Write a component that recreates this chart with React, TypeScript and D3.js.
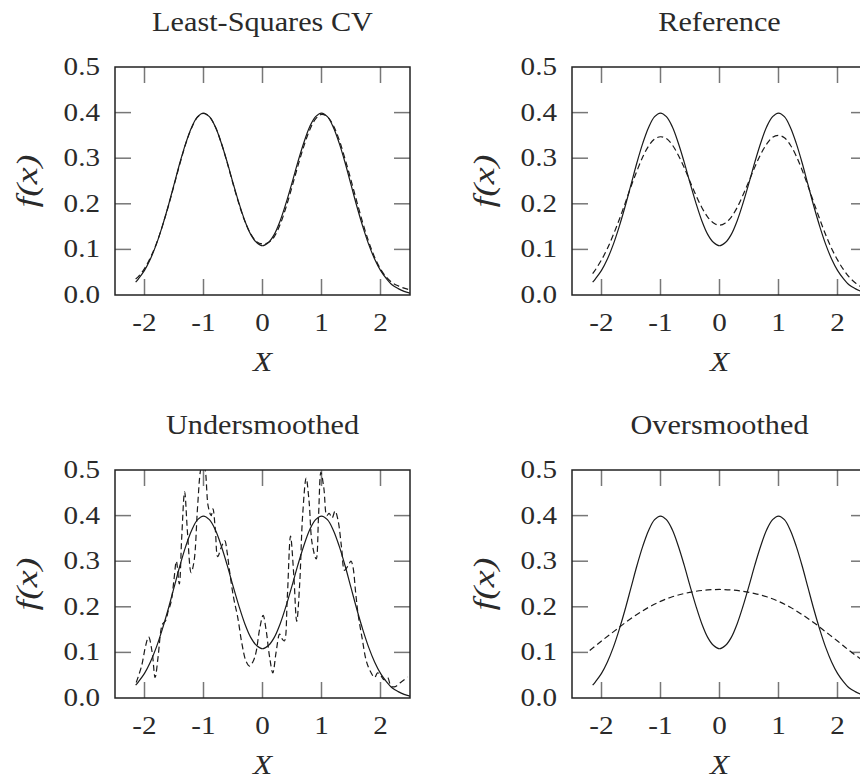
import * as d3 from "d3";

const xTicks = [-2, -1, 0, 1, 2];
const yTicks = [0, 0.1, 0.2, 0.3, 0.4, 0.5];

// common grid for the smooth curves
const gridX = [
  -2.15, -2.1, -2.0, -1.9, -1.8, -1.7, -1.6, -1.5, -1.4, -1.3, -1.2, -1.1, -1.0, -0.9, -0.8, -0.7,
  -0.6, -0.5, -0.4, -0.3, -0.2, -0.1, 0.0, 0.1, 0.2, 0.3, 0.4, 0.5, 0.6, 0.7, 0.8, 0.9, 1.0, 1.1,
  1.2, 1.3, 1.4, 1.5, 1.6, 1.7, 1.8, 1.9, 2.0, 2.1, 2.2, 2.3, 2.4, 2.5,
];

const trueDensity = [
  0.028, 0.036, 0.054, 0.079, 0.111, 0.15, 0.194, 0.242, 0.29, 0.333, 0.368, 0.391, 0.399, 0.391,
  0.369, 0.334, 0.292, 0.246, 0.202, 0.163, 0.133, 0.115, 0.108, 0.115, 0.133, 0.163, 0.202, 0.246,
  0.292, 0.334, 0.369, 0.391, 0.399, 0.391, 0.368, 0.333, 0.29, 0.242, 0.194, 0.15, 0.111, 0.079,
  0.054, 0.036, 0.022, 0.014, 0.008, 0.004,
];

const lscvEstimate = [
  0.035, 0.041, 0.058, 0.082, 0.112, 0.15, 0.193, 0.24, 0.288, 0.332, 0.367, 0.39, 0.398, 0.391,
  0.369, 0.334, 0.291, 0.244, 0.2, 0.162, 0.134, 0.117, 0.112, 0.115, 0.128, 0.155, 0.193, 0.237,
  0.283, 0.326, 0.362, 0.386, 0.396, 0.391, 0.372, 0.34, 0.298, 0.252, 0.204, 0.158, 0.117, 0.083,
  0.057, 0.039, 0.027, 0.02, 0.015, 0.011,
];

const referenceEstimate = [
  0.047, 0.056, 0.077, 0.102, 0.132, 0.165, 0.201, 0.238, 0.272, 0.303, 0.327, 0.342, 0.347, 0.343,
  0.329, 0.307, 0.28, 0.249, 0.219, 0.192, 0.171, 0.158, 0.153, 0.158, 0.171, 0.192, 0.22, 0.25,
  0.281, 0.309, 0.331, 0.346, 0.35, 0.345, 0.329, 0.305, 0.274, 0.239, 0.202, 0.166, 0.132, 0.102,
  0.077, 0.056, 0.039, 0.027, 0.018, 0.012,
];

const overX = [
  -2.2, -2.0, -1.8, -1.6, -1.4, -1.2, -1.0, -0.8, -0.6, -0.4, -0.2, 0.0, 0.2, 0.4, 0.6, 0.8, 1.0,
  1.2, 1.4, 1.6, 1.8, 2.0, 2.2, 2.4, 2.5,
];
const overEstimate = [
  0.104, 0.125, 0.145, 0.165, 0.183, 0.199, 0.212, 0.222, 0.229, 0.234, 0.237, 0.238, 0.237, 0.234,
  0.229, 0.222, 0.212, 0.199, 0.183, 0.165, 0.145, 0.125, 0.104, 0.085, 0.076,
];

const underX = [
  -2.14, -2.05, -1.98, -1.93, -1.87, -1.82, -1.77, -1.72, -1.69, -1.64, -1.6, -1.55, -1.5, -1.46,
  -1.41, -1.37, -1.32, -1.27, -1.21, -1.16, -1.1, -1.05, -1.01, -0.97, -0.92, -0.87, -0.84, -0.8,
  -0.76, -0.7, -0.64, -0.6, -0.56, -0.49, -0.42, -0.35, -0.28, -0.22, -0.16, -0.11, -0.05, 0.01,
  0.06, 0.12, 0.175, 0.23, 0.29, 0.33, 0.37, 0.42, 0.475, 0.53, 0.58, 0.63, 0.68, 0.74, 0.79, 0.84,
  0.91, 0.95, 0.99, 1.04, 1.09, 1.13, 1.18, 1.23, 1.28, 1.34, 1.39, 1.45, 1.5, 1.53, 1.58, 1.62,
  1.69, 1.76, 1.83, 1.9, 1.95, 2.0, 2.06, 2.12, 2.18, 2.25, 2.33, 2.41, 2.46,
];
const underEstimate = [
  0.034, 0.07, 0.115, 0.134, 0.1, 0.045, 0.09, 0.15, 0.163, 0.17, 0.19, 0.21, 0.26, 0.3, 0.25,
  0.35, 0.452, 0.36, 0.275, 0.3, 0.42, 0.5, 0.52, 0.5, 0.42, 0.4, 0.415, 0.37, 0.31, 0.33, 0.345,
  0.32, 0.28, 0.22, 0.177, 0.12, 0.081, 0.07, 0.08, 0.1, 0.15, 0.181, 0.15, 0.09, 0.055, 0.1, 0.14,
  0.13, 0.125, 0.22, 0.355, 0.27, 0.168, 0.25, 0.4, 0.482, 0.43, 0.34, 0.305, 0.4, 0.495, 0.46, 0.4,
  0.405, 0.395, 0.41, 0.39, 0.33, 0.28, 0.29, 0.3, 0.29, 0.23, 0.184, 0.13, 0.081, 0.058, 0.045,
  0.055, 0.05, 0.04, 0.045, 0.026, 0.025, 0.033, 0.041, 0.046,
];

const FONT = "'Liberation Serif', 'Times New Roman', serif";
const PW = 295;
const PH = 228;
const SX = 1.12;

type Pt = [number, number];
const zip = (xs: number[], ys: number[]): Pt[] => xs.map((x, i) => [x, ys[i]]);

function Panel({ id, title, left, top, dashed }: { id: string; title: string; left: number; top: number; dashed: Pt[] }) {
  const x = d3.scaleLinear().domain([-2.5, 2.5]).range([0, PW]);
  const y = d3.scaleLinear().domain([0, 0.5]).range([PH, 0]);
  const line = d3
    .line<Pt>()
    .x((d) => x(d[0]))
    .y((d) => y(d[1]))
    .curve(d3.curveCatmullRom);
  const solid = zip(gridX, trueDensity);
  const tickLen = 16;
  const fmt = d3.format(".1f");

  return (
    <g transform={`translate(${left},${top})`}>
      <defs>
        <clipPath id={`clip-${id}`}>
          <rect x={0} y={0} width={PW} height={PH} />
        </clipPath>
      </defs>
      <text transform={`translate(${PW / 2},-36) scale(${SX},1)`} textAnchor="middle" fontSize={27} fontFamily={FONT} fill="#2a2a2a">
        {title}
      </text>
      {/* ticks inside the frame */}
      <g stroke="#777" strokeWidth={1.5}>
        {xTicks.map((t) => (
          <g key={`x${t}`}>
            <line x1={x(t)} x2={x(t)} y1={PH} y2={PH - tickLen} />
            <line x1={x(t)} x2={x(t)} y1={0} y2={tickLen} />
          </g>
        ))}
        {yTicks.slice(1, -1).map((t) => (
          <g key={`y${t}`}>
            <line x1={0} x2={tickLen} y1={y(t)} y2={y(t)} />
            <line x1={PW} x2={PW - tickLen} y1={y(t)} y2={y(t)} />
          </g>
        ))}
      </g>
      <g clipPath={`url(#clip-${id})`} fill="none" stroke="#1a1a1a" strokeWidth={1.2}>
        <path d={line(solid) ?? ""} />
        <path d={line(dashed) ?? ""} strokeDasharray="6,3.5" />
      </g>
      <rect x={0} y={0} width={PW} height={PH} fill="none" stroke="#222" strokeWidth={1.5} />
      {xTicks.map((t) => (
        <text key={`xl${t}`} transform={`translate(${x(t)},${PH + 36}) scale(${SX},1)`} textAnchor="middle" fontSize={26} fontFamily={FONT} fill="#2a2a2a">
          {String(t)}
        </text>
      ))}
      {yTicks.map((t) => (
        <text key={`yl${t}`} transform={`translate(-15,${y(t) + 8}) scale(${SX},1)`} textAnchor="end" fontSize={26} fontFamily={FONT} fill="#2a2a2a">
          {fmt(t)}
        </text>
      ))}
      <text transform={`translate(${PW / 2},${PH + 76}) scale(${SX},1)`} textAnchor="middle" fontSize={28} fontStyle="italic" fontFamily={FONT} fill="#2a2a2a">
        X
      </text>
      <text
        transform={`translate(-78,${PH / 2}) rotate(-90)`}
        textAnchor="middle"
        fontSize={30}
        fontStyle="italic"
        fontFamily={FONT}
        fill="#2a2a2a"
        textLength={53}
        lengthAdjust="spacingAndGlyphs"
      >
        f(x)
      </text>
    </g>
  );
}

export default function App() {
  return (
    <svg width={860} height={782} style={{ position: "absolute", left: 0, top: 0, background: "#fff" }}>
      <rect width={860} height={782} fill="#fff" />
      <Panel id="lscv" title="Least-Squares CV" left={115} top={67} dashed={zip(gridX, lscvEstimate)} />
      <Panel id="ref" title="Reference" left={572} top={67} dashed={zip(gridX, referenceEstimate)} />
      <Panel id="under" title="Undersmoothed" left={115} top={470} dashed={zip(underX, underEstimate)} />
      <Panel id="over" title="Oversmoothed" left={572} top={470} dashed={zip(overX, overEstimate)} />
    </svg>
  );
}
